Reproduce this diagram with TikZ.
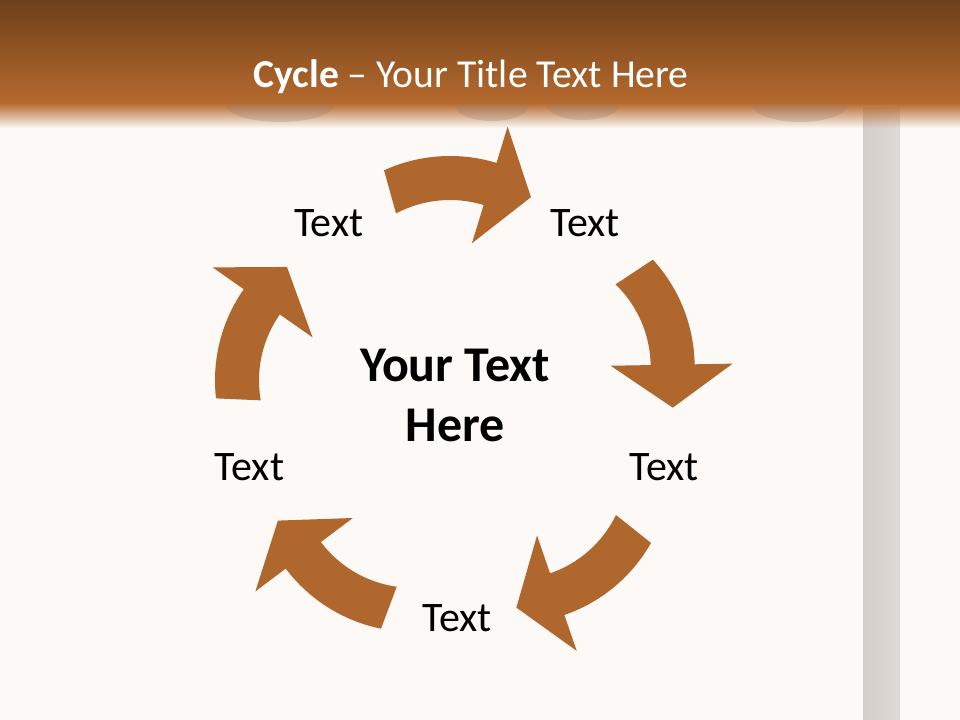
\documentclass[tikz,border=0pt]{standalone}
\usepackage{fontspec}
\setmainfont{Carlito}
\usetikzlibrary{fadings}

\definecolor{slidebg}{RGB}{252,249,246}
\definecolor{headtop}{RGB}{110,64,25}
\definecolor{headbot}{RGB}{183,106,46}
\definecolor{arrowfill}{RGB}{176,103,45}
\definecolor{poleleft}{RGB}{212,206,203}
\definecolor{poleright}{RGB}{224,218,215}
\definecolor{scallop}{RGB}{150,122,108}

\tikzfading[name=band fade, top color=transparent!0, bottom color=transparent!100]

\begin{document}
\begin{tikzpicture}[x=0.75pt,y=0.75pt,
                label node/.style={font=\fontsize{31.5}{36}\selectfont,text=black},
                hub node/.style={font=\fontsize{37.5}{45}\selectfont\bfseries,align=center,text=black},
                title node/.style={font=\fontsize{29.7}{34}\selectfont,text=white},
                cycle arrow/.style={fill=arrowfill}]
                \useasboundingbox (0,0) rectangle (960,720);
                \fill[slidebg] (0,0) rectangle (960,720);
                \shade[left color=poleleft,right color=poleright] (863,0) rectangle (900,612);
                \fill[headbot,path fading=band fade] (0,592) rectangle (960,617);
                \foreach \cx/\rx/\ry in {280/55/18,492/38/17,583/37/16,800/48/18}
                  \fill[scallop,opacity=0.28] (\cx-\rx,616) arc[start angle=180,end angle=360,x radius=\rx,y radius=\ry] -- cycle;
                \shade[top color=headtop,bottom color=headbot] (0,616) rectangle (960,720);
                \node[title node] (title) at (471,643) {\textbf{Cycle} – Your Title Text Here};

                \coordinate (C) at (457,320);
                \node[hub node] (hub) at (455,325) {Your Text\\Here};
                \foreach \a/\n in {126/tl,54/tr,-18/rt,270/bt,198/lf}
                  \node[label node] (txt\n) at ([shift={(\a:218)}]C) {Text};

                \foreach \k in {0,...,4}{
                  \begin{scope}[rotate around={-72*\k:(C)},shift={(450,405)}]
                    \fill[cycle arrow] (114.5:159) arc[start angle=114.5,end angle=73,radius=159]
                      -- (73:197) -- (55.5:143) -- (73:75) -- (73:115)
                      arc[start angle=73,end angle=118,radius=115] -- cycle;
                  \end{scope}
                }
\end{tikzpicture}
\end{document}
